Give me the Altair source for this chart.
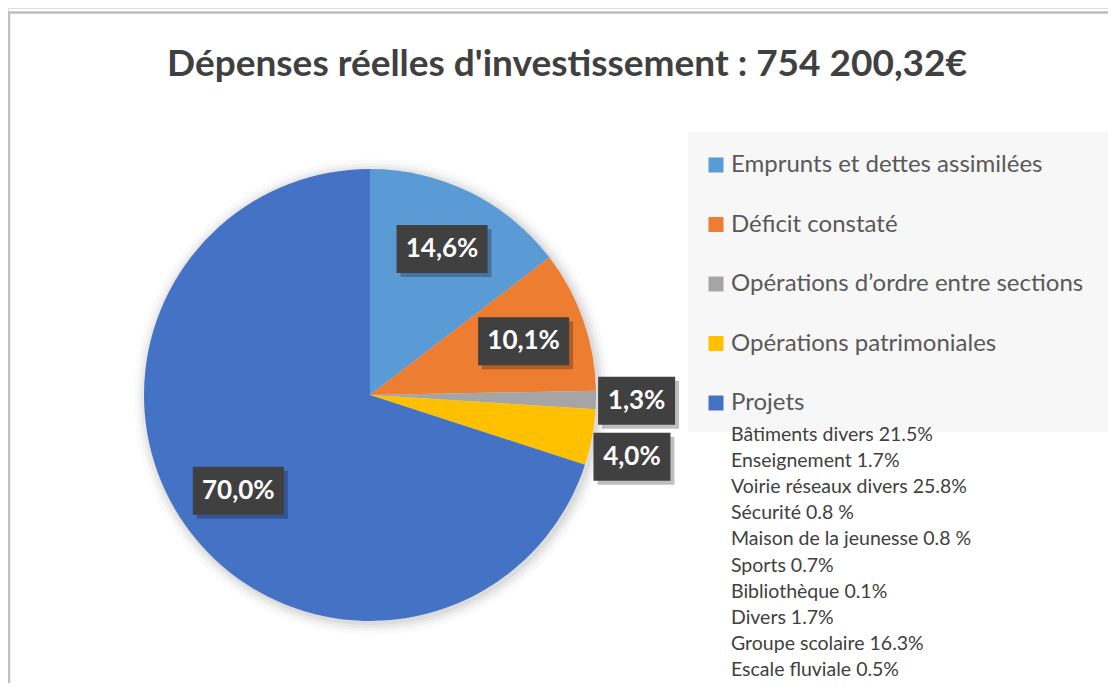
import altair as alt
import pandas as pd

# ---- data ----
title_text = "Dépenses réelles d'investissement : 754 200,32€"
categories = [
    "Emprunts et dettes assimilées",
    "Déficit constaté",
    " Opérations d’ordre entre sections",
    "Opérations patrimoniales",
    "Projets",
]
shares = [14.6, 10.1, 1.3, 4.0, 70.0]
share_labels = ["14,6%", "10,1%", "1,3%", "4,0%", "70,0%"]
colors = ["#5B9BD5", "#ED7D31", "#A5A5A5", "#FFC000", "#4472C4"]

projets_items = [
    "Bâtiments divers 21.5%",
    "Enseignement 1.7%",
    "Voirie réseaux divers 25.8%",
    "Sécurité 0.8 %",
    "Maison de la jeunesse 0.8 %",
    "Sports 0.7%",
    "Bibliothèque 0.1%",
    "Divers 1.7%",
    "Groupe scolaire 16.3%",
    "Escale fluviale 0.5%",
]

df = pd.DataFrame({
    "cat": categories,
    "value": shares,
    "label": share_labels,
    "order": list(range(len(categories))),
})

FONT = "Lato"
CX, CY, R = 362, 387, 226

base = alt.Chart(df)
one = alt.Chart(pd.DataFrame({"a": [0]}))

# legend background panel
legend_bg = one.mark_rect(color="#F7F7F7").encode(
    x=alt.value(680), x2=alt.value(1104), y=alt.value(124), y2=alt.value(424)
)

# soft shadow around pie
shadows = []
for dr, op in [(12, 0.02), (8, 0.03), (5, 0.04), (2, 0.05)]:
    shadows.append(
        base.mark_arc(radius=R + dr, color="#000000", opacity=op).encode(
            theta=alt.Theta("value:Q", stack=True),
            order=alt.Order("order:Q"),
            x=alt.value(CX + 2), y=alt.value(CY + 2),
        )
    )

pie = base.mark_arc(radius=R).encode(
    theta=alt.Theta("value:Q", stack=True),
    order=alt.Order("order:Q"),
    color=alt.Color(
        "cat:N",
        scale=alt.Scale(domain=categories, range=colors),
        sort=categories,
        legend=alt.Legend(
            title=None,
            orient="none",
            legendX=676,
            legendY=125,
            padding=20,
            symbolType="square",
            symbolSize=225,
            symbolStrokeWidth=0,
            labelFontSize=24,
            labelFont=FONT,
            labelColor="#595959",
            labelOffset=3,
            labelLimit=600,
            rowPadding=35.5,
        ),
    ),
    x=alt.value(CX), y=alt.value(CY),
)

pos = (
    base.transform_window(cum="sum(value)", sort=[alt.SortField("order")])
    .transform_joinaggregate(total="sum(value)")
    .transform_calculate(
        mid="(datum.cum - datum.value/2) / datum.total * 2 * PI",
        f="datum.value < 5 ? 1.18 : 0.72",
    )
    .transform_calculate(
        px=f"{CX} + datum.f * {R} * sin(datum.mid)",
        py0=f"{CY} - datum.f * {R} * cos(datum.mid)",
        w="14 * length(datum.label) + 21",
    )
    .transform_window(
        window=[
            alt.WindowFieldDef(op="lag", field="py0", param=1, **{"as": "prev_py"}),
            alt.WindowFieldDef(op="lag", field="f", param=1, **{"as": "prev_f"}),
        ],
        sort=[alt.SortField("order")],
    )
    .transform_calculate(
        py="(datum.f > 1 && datum.prev_f > 1 && datum.py0 - datum.prev_py < 56)"
           " ? datum.prev_py + 56 : datum.py0"
    )
    .transform_calculate(
        x0="datum.px - datum.w/2",
        x1="datum.px + datum.w/2",
        y0="datum.py - 24",
        y1="datum.py + 24",
        sx0="datum.px - datum.w/2 + 4",
        sx1="datum.px + datum.w/2 + 4",
        sy0="datum.py - 24 + 4",
        sy1="datum.py + 24 + 4",
    )
)

box_shadow = pos.mark_rect(color="#000000", opacity=0.25).encode(
    x=alt.X("sx0:Q", scale=None), x2="sx1:Q",
    y=alt.Y("sy0:Q", scale=None), y2="sy1:Q",
)
box = pos.mark_rect(color="#404040").encode(
    x=alt.X("x0:Q", scale=None), x2="x1:Q",
    y=alt.Y("y0:Q", scale=None), y2="y1:Q",
)
box_text = pos.mark_text(
    font=FONT, fontSize=26, fontWeight="bold", color="#FFFFFF",
    align="center", baseline="middle",
).encode(
    x=alt.X("px:Q", scale=None), y=alt.Y("py:Q", scale=None), text="label:N",
)

title = alt.Chart(pd.DataFrame({"t": [title_text]})).mark_text(
    font=FONT, fontSize=37, fontWeight="bold", color="#404040",
    align="center", baseline="middle",
).encode(text="t:N", x=alt.value(559), y=alt.value(57))

sub = alt.Chart(pd.DataFrame({"t": ["\n".join(projets_items)]})).mark_text(
    font=FONT, fontSize=19.5, color="#404040", align="left", baseline="top",
    lineBreak="\n", lineHeight=26.1,
).encode(text="t:N", x=alt.value(723), y=alt.value(418))

border_top = one.mark_rule(color="#BFBFBF", strokeWidth=2.5).encode(
    x=alt.value(0), x2=alt.value(1100), y=alt.value(4.5)
)
border_left = one.mark_rule(color="#BFBFBF", strokeWidth=2.5).encode(
    x=alt.value(1), y=alt.value(4.5), y2=alt.value(675)
)

chart = alt.layer(
    border_top, border_left, legend_bg, *shadows, pie, box_shadow, box, box_text,
    title, sub
).properties(
    width=1100, height=675,
    autosize=alt.AutoSizeParams(type="none"),
    padding=0,
).configure_view(stroke=None).configure(background="#FFFFFF")

chart.save("out.html", embed_options={"renderer": "svg", "actions": False})
